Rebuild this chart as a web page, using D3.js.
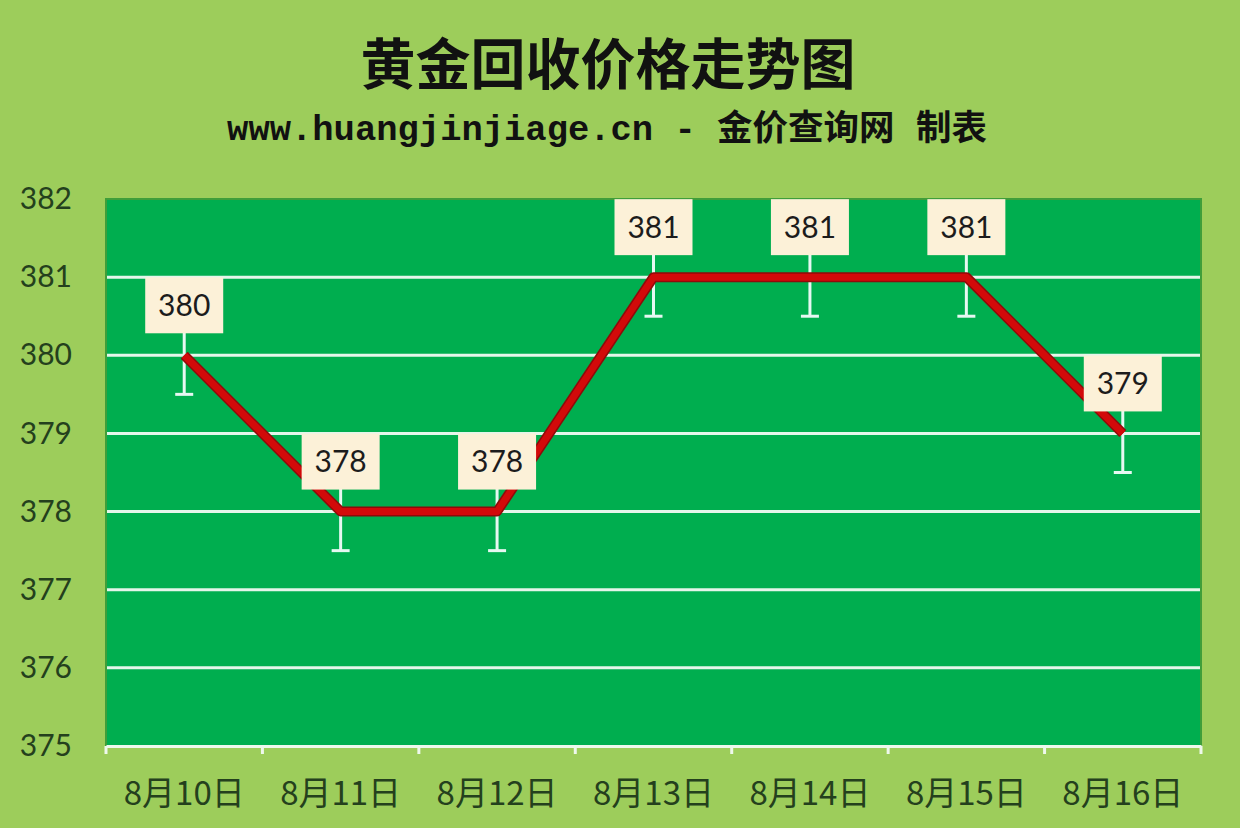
<!DOCTYPE html>
<html>
<head>
<meta charset="utf-8">
<script src="https://cdn.jsdelivr.net/npm/d3@7"></script>
<style>
  body { margin: 0; background: #9dcd5b; }
  svg { display: block; }
</style>
</head>
<body>
<div id="chart"></div>
<script>
// chart data
const dates = ['8月10日', '8月11日', '8月12日', '8月13日', '8月14日', '8月15日', '8月16日'];
const prices = [380, 378, 378, 381, 381, 381, 379];
const errorSize = 0.5;
const yTicks = [375, 376, 377, 378, 379, 380, 381, 382];
const titleText = '黄金回收价格走势图';
const subtitleText = 'www.huangjinjiage.cn - 金价查询网 制表';

const width = 1240, height = 828;
const margin = { top: 199, right: 39, bottom: 82, left: 106 };

const svg = d3.select('#chart')
    .append('svg')
    .attr('width', width)
    .attr('height', height);

svg.append('rect')
    .attr('width', width)
    .attr('height', height)
    .attr('fill', '#9dcd5b');

const x = d3.scaleBand()
    .domain(dates)
    .range([margin.left, width - margin.right]);

const y = d3.scaleLinear()
    .domain([375, 382])
    .range([height - margin.bottom, margin.top]);

// plot area
svg.append('rect')
    .attr('x', margin.left)
    .attr('y', margin.top)
    .attr('width', width - margin.left - margin.right)
    .attr('height', height - margin.top - margin.bottom)
    .attr('fill', '#00ae4f')
    .attr('stroke', '#3f9e3a')
    .attr('stroke-width', 2);

// gridlines
svg.append('g')
    .selectAll('line')
    .data(yTicks.slice(1, -1))
    .enter()
    .append('line')
    .attr('x1', margin.left + 1)
    .attr('x2', width - margin.right - 1)
    .attr('y1', d => y(d))
    .attr('y2', d => y(d))
    .attr('stroke', '#e4f6ea')
    .attr('stroke-width', 3);

// x axis
const xAxis = svg.append('g')
    .attr('transform', `translate(0,${height - margin.bottom})`)
    .call(d3.axisBottom(x).tickSize(0).tickPadding(36));
xAxis.select('.domain')
    .attr('stroke', '#eef8ec')
    .attr('stroke-width', 3);
xAxis.selectAll('text')
    .attr('fill', '#24401d')
    .style('font-family', '"Noto Sans CJK SC", sans-serif')
    .style('font-size', '33px');

// category boundary ticks
svg.append('g')
    .selectAll('line')
    .data(d3.range(dates.length + 1))
    .enter()
    .append('line')
    .attr('x1', i => margin.left + i * x.step())
    .attr('x2', i => margin.left + i * x.step())
    .attr('y1', height - margin.bottom)
    .attr('y2', height - margin.bottom + 8)
    .attr('stroke', '#eef8ec')
    .attr('stroke-width', 3);

// y axis labels
const yAxis = svg.append('g')
    .attr('transform', `translate(${margin.left},0)`)
    .call(d3.axisLeft(y).tickValues(yTicks).tickFormat(d3.format('d')).tickSize(0).tickPadding(34));
yAxis.select('.domain').remove();
yAxis.selectAll('text')
    .attr('fill', '#24401d')
    .style('font-family', 'Lato, "Open Sans", sans-serif')
    .style('font-size', '30px');

const cx = d => x(d) + x.bandwidth() / 2;

// error bars
const eb = svg.append('g')
    .selectAll('g')
    .data(prices)
    .enter()
    .append('g');
eb.append('line')
    .attr('x1', (d, i) => cx(dates[i]))
    .attr('x2', (d, i) => cx(dates[i]))
    .attr('y1', d => y(d + errorSize))
    .attr('y2', d => y(d - errorSize))
    .attr('stroke', '#e6f8f2')
    .attr('stroke-width', 3);
eb.append('line')
    .attr('x1', (d, i) => cx(dates[i]) - 9)
    .attr('x2', (d, i) => cx(dates[i]) + 9)
    .attr('y1', d => y(d - errorSize))
    .attr('y2', d => y(d - errorSize))
    .attr('stroke', '#e6f8f2')
    .attr('stroke-width', 3);

// price line
const line = d3.line()
    .x((d, i) => cx(dates[i]))
    .y(d => y(d));

svg.append('path')
    .datum(prices)
    .attr('d', line)
    .attr('fill', 'none')
    .attr('stroke', '#8e0a0a')
    .attr('stroke-width', 10)
    .attr('stroke-linejoin', 'round');
svg.append('path')
    .datum(prices)
    .attr('d', line)
    .attr('fill', 'none')
    .attr('stroke', '#d20a0a')
    .attr('stroke-width', 7)
    .attr('stroke-linejoin', 'round');

// data labels
const labels = svg.append('g')
    .selectAll('g')
    .data(prices)
    .enter()
    .append('g')
    .attr('transform', (d, i) => `translate(${cx(dates[i])},${y(d) - 50})`);
labels.append('rect')
    .attr('x', -39)
    .attr('y', -28)
    .attr('width', 78)
    .attr('height', 56)
    .attr('fill', '#fcf1d8');
labels.append('text')
    .attr('text-anchor', 'middle')
    .attr('dy', '0.36em')
    .attr('fill', '#1c1c1c')
    .style('font-family', 'Lato, "Open Sans", sans-serif')
    .style('font-size', '30px')
    .text(d => d);

// titles
svg.append('text')
    .attr('x', 608)
    .attr('y', 84)
    .attr('text-anchor', 'middle')
    .attr('fill', '#111')
    .style('font-family', '"Noto Sans CJK SC", sans-serif')
    .style('font-weight', 'bold')
    .style('font-size', '55px')
    .text(titleText);

svg.append('text')
    .attr('x', 607)
    .attr('y', 140)
    .attr('text-anchor', 'middle')
    .attr('fill', '#111')
    .style('font-family', '"Liberation Mono", "Noto Sans CJK SC", monospace')
    .style('font-weight', 'bold')
    .style('font-size', '35.5px')
    .text(subtitleText);
</script>
</body>
</html>
